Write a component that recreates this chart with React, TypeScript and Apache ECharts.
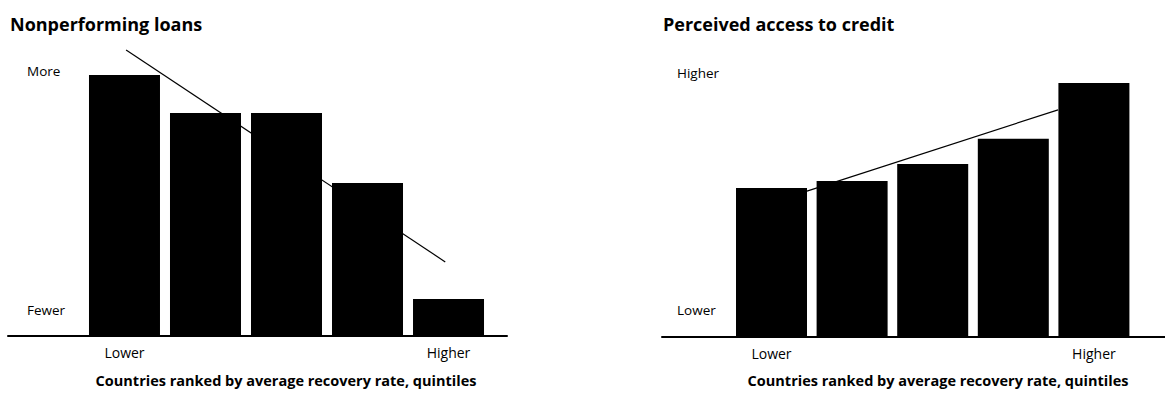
import React, { useEffect, useRef } from "react";
import * as echarts from "echarts";

// Quintile positions (1 = lowest recovery rate, 5 = highest)
const quintiles = [1, 2, 3, 4, 5];

// Left panel: nonperforming loans (index, 0-100 scale)
const nplValues = [83.1, 71.0, 71.0, 48.7, 11.8];
const nplTrendX = [1.02, 4.96];
const nplTrendY = [91.1, 23.6];
const nplYLabels = [
  { value: 84.4, text: "More" },
  { value: 8.3, text: "Fewer" },
];

// Right panel: perceived access to credit (index, 0-100 scale)
const creditValues = [47.3, 49.5, 54.9, 62.9, 80.6];
const creditTrendX = [1.44, 4.555];
const creditTrendY = [46.3, 72.1];
const creditYLabels = [
  { value: 83.8, text: "Higher" },
  { value: 8.6, text: "Lower" },
];

const xTickLabels = [
  { value: 1, text: "Lower" },
  { value: 5, text: "Higher" },
];

const panelTitles = ["Nonperforming loans", "Perceived access to credit"];
const xAxisTitle = "Countries ranked by average recovery rate, quintiles";

const FONT = "'Open Sans', 'Noto Sans', sans-serif";

export default function App() {
  const ref = useRef<HTMLDivElement>(null);

  useEffect(() => {
    if (!ref.current) return;
    const chart = echarts.init(ref.current, undefined, { renderer: "svg" });

    const xLabelFmt = (v: number) => {
      const f = xTickLabels.find((l) => Math.abs(l.value - v) < 1e-6);
      return f ? f.text : "";
    };
    const yFmt = (labels: { value: number; text: string }[]) => (v: number) => {
      const f = labels.find((l) => Math.abs(l.value - v) < 1e-6);
      return f ? f.text : "";
    };

    const mkX = (gridIndex: number, min: number, max: number) => ({
      type: "value",
      gridIndex,
      min,
      max,
      axisLine: { show: true, onZero: false, lineStyle: { color: "#000", width: 2 } },
      axisTick: { show: false },
      splitLine: { show: false },
      axisLabel: {
        customValues: xTickLabels.map((l) => l.value),
        formatter: xLabelFmt,
        color: "#000",
        fontFamily: FONT,
        fontSize: 14,
        margin: 9,
      },
    });

    const mkY = (gridIndex: number, labels: { value: number; text: string }[], margin: number) => ({
      type: "value",
      gridIndex,
      min: 0,
      max: 100,
      axisLine: { show: false },
      axisTick: { show: false },
      splitLine: { show: false },
      axisLabel: {
        inside: true,
        customValues: labels.map((l) => l.value),
        formatter: yFmt(labels),
        color: "#000",
        fontFamily: FONT,
        fontSize: 13.5,
        margin,
      },
    });

    const barStyle = { color: "#000" };
    const lineStyle = { color: "#000", width: 1.2 };
    const titleStyle = { fontFamily: FONT, fontSize: 18, fontWeight: "bold", color: "#000" };
    const axisTitleStyle = { fontFamily: FONT, fontSize: 14.5, fontWeight: "bold", color: "#000" };

    chart.setOption({
      animation: false,
      backgroundColor: "#fff",
      title: [
        { text: panelTitles[0], left: 10, top: 15, padding: 0, textStyle: titleStyle },
        { text: panelTitles[1], left: 663, top: 15, padding: 0, textStyle: titleStyle },
        { text: xAxisTitle, left: 286, top: 373, padding: 0, textAlign: "center", textStyle: axisTitleStyle },
        { text: xAxisTitle, left: 938, top: 373, padding: 0, textAlign: "center", textStyle: axisTitleStyle },
      ],
      grid: [
        { left: 8, width: 499, top: 22, height: 314 },
        { left: 662, width: 503, top: 22, height: 315 },
      ],
      xAxis: [mkX(0, -0.438, 5.722), mkX(1, -0.3586, 5.882)],
      yAxis: [mkY(0, nplYLabels, 19), mkY(1, creditYLabels, 15)],
      series: [
        {
          type: "bar",
          xAxisIndex: 0,
          yAxisIndex: 0,
          barWidth: 71,
          itemStyle: barStyle,
          data: quintiles.map((q, i) => [q, nplValues[i]]),
        },
        {
          type: "line",
          xAxisIndex: 0,
          yAxisIndex: 0,
          symbol: "none",
          lineStyle,
          z: 3,
          data: nplTrendX.map((x, i) => [x, nplTrendY[i]]),
        },
        {
          type: "bar",
          xAxisIndex: 1,
          yAxisIndex: 1,
          barWidth: 71,
          itemStyle: barStyle,
          data: quintiles.map((q, i) => [q, creditValues[i]]),
        },
        {
          type: "line",
          xAxisIndex: 1,
          yAxisIndex: 1,
          symbol: "none",
          lineStyle,
          z: 1,
          data: creditTrendX.map((x, i) => [x, creditTrendY[i]]),
        },
      ],
    });

    return () => chart.dispose();
  }, []);

  return (
    <div
      ref={ref}
      style={{ position: "absolute", left: 0, top: 0, width: 1165, height: 396, background: "#fff" }}
    />
  );
}
